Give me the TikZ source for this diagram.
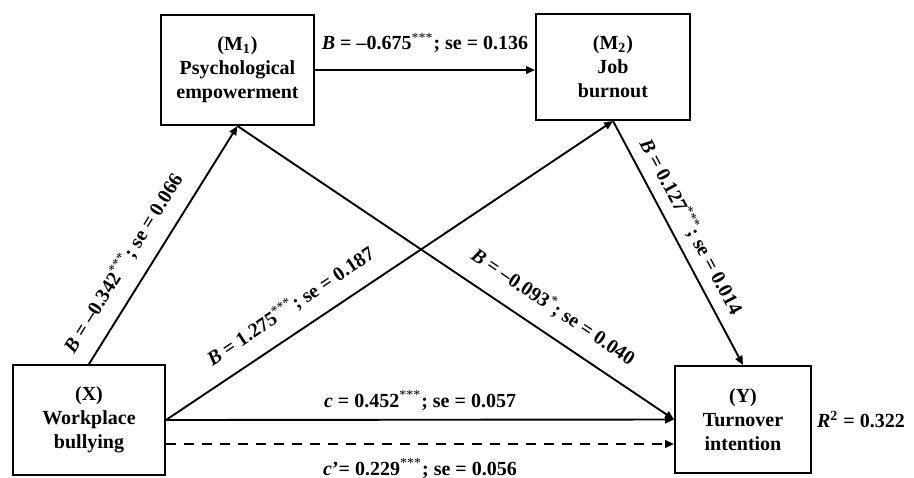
\documentclass[tikz,border=0pt]{standalone}
\usepackage{fontspec}
\setmainfont{Liberation Serif}
\usepackage{tikz}
\usetikzlibrary{arrows.meta, positioning}

\newcommand{\stars}[1]{\textsuperscript{\mdseries #1}}

\begin{document}
\begin{tikzpicture}[
    x=0.5pt, y=-0.5pt,
    var/.style={draw, line width=1pt, align=center, font=\bfseries},
    effect/.style={-{Triangle[length=4.5pt,width=3.8pt]}, line width=0.95pt},
    coef/.style={font=\bfseries}
]
    \useasboundingbox (0,0) rectangle (914,477);

    \node[var, minimum width=76.5pt, minimum height=55pt] (M1) at (237.5,70) {(M\textsubscript{1})\\Psychological\\empowerment};
    \node[var, minimum width=77pt, minimum height=53pt] (M2) at (613,67) {(M\textsubscript{2})\\Job\\burnout};
    \node[var, minimum width=76pt, minimum height=55pt] (X) at (89,420) {(X)\\Workplace\\bullying};
    \node[var, minimum width=68pt, minimum height=53.5pt] (Y) at (743,419.5) {(Y)\\Turnover\\intention};
    \node[coef, right=-1pt of Y] (R2) {\textit{R}\textsuperscript{2} = 0.322};

    % paths through the two mediators
    \draw[effect] (X.north) -- (M1.south) node[coef, pos=0.37, above=3.6pt, sloped] {\textit{B} = –0.342\stars{***}; se = 0.066};
    \draw[effect] (M1.east) -- (M1.east -| M2.west) node[coef, midway, above=5pt] {\textit{B} = –0.675\stars{***}; se = 0.136};
    \draw[effect] (X.east) -- (M2.south) node[coef, pos=0.31, above=4pt, sloped] {\textit{B} = 1.275\stars{***}; se = 0.187};
    \draw[effect] (M1.south) -- (Y.west) node[coef, pos=0.69, above=4.5pt, sloped] {\textit{B} = –0.093\stars{*}; se = 0.040};
    \draw[effect] (M2.south) -- (Y.north) node[coef, pos=0.47, above=1pt, sloped] {\textit{B} = 0.127\stars{***}; se = 0.014};

    % total and direct effect
    \draw[effect] (X.east) -- (Y.west) node[coef, midway, above=1pt] {\textit{c} = 0.452\stars{***}; se = 0.057};
    \draw[effect, dash pattern=on 5pt off 4pt] ([yshift=-12pt]X.east) -- ([yshift=-12pt]X.east -| Y.west) node[coef, midway, below=3.5pt] {\textit{c}'= 0.229\stars{***}; se = 0.056};
\end{tikzpicture}
\end{document}
